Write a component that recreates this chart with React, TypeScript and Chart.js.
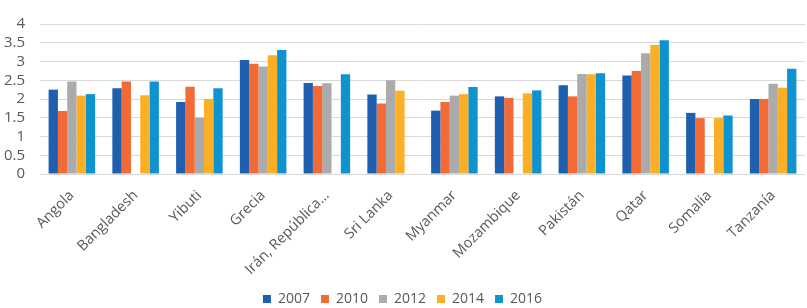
import React, { useEffect, useRef } from "react";
import { Chart, registerables } from "chart.js";

Chart.register(...registerables);

const categories = [
  "Angola",
  "Bangladesh",
  "Yibuti",
  "Grecia",
  "Irán, República…",
  "Sri Lanka",
  "Myanmar",
  "Mozambique",
  "Pakistán",
  "Qatar",
  "Somalia",
  "Tanzanía",
];

const seriesNames = ["2007", "2010", "2012", "2014", "2016"];

const v2007 = [2.25, 2.29, 1.92, 3.04, 2.43, 2.12, 1.69, 2.07, 2.37, 2.63, 1.63, 2.0];
const v2010 = [1.68, 2.47, 2.33, 2.94, 2.35, 1.88, 1.92, 2.03, 2.07, 2.75, 1.49, 2.0];
const v2012 = [2.47, null, 1.5, 2.87, 2.42, 2.5, 2.09, null, 2.67, 3.22, null, 2.41];
const v2014 = [2.09, 2.1, 2.0, 3.17, null, 2.22, 2.13, 2.15, 2.66, 3.44, 1.49, 2.3];
const v2016 = [2.13, 2.47, 2.29, 3.31, 2.66, null, 2.32, 2.23, 2.69, 3.57, 1.56, 2.81];

const seriesValues = [v2007, v2010, v2012, v2014, v2016];
const seriesColors = ["#1F5FAF", "#F26A35", "#ABABAB", "#FCAF25", "#0F93CF"];

const FONT = "'Open Sans', sans-serif";

export default function App() {
  const ref = useRef<HTMLCanvasElement | null>(null);

  useEffect(() => {
    document.body.style.margin = "0";
    const canvas = ref.current;
    if (!canvas) return;
    const chart = new Chart(canvas, {
      type: "bar",
      data: {
        labels: categories,
        datasets: seriesNames.map((name, i) => ({
          label: name,
          data: seriesValues[i],
          backgroundColor: seriesColors[i],
          borderWidth: 0,
          categoryPercentage: 0.73,
          barPercentage: 1,
        })),
      },
      options: {
        responsive: false,
        animation: false,
        devicePixelRatio: 1,
        layout: { padding: { top: 8, left: 0, right: 2, bottom: -8 } },
        plugins: {
          legend: {
            position: "bottom",
            labels: {
              boxWidth: 8,
              boxHeight: 8,
              padding: 11,
              color: "#595959",
              font: { family: FONT, size: 14 },
            },
          },
          tooltip: { enabled: false },
        },
        scales: {
          x: {
            grid: { display: false },
            border: { display: false },
            ticks: {
              minRotation: 45,
              maxRotation: 45,
              autoSkip: false,
              padding: 5,
              color: "#595959",
              font: { family: FONT, size: 14.5 },
            },
            afterFit: (scale: any) => {
              scale.height = 107;
            },
          },
          y: {
            min: 0,
            max: 4,
            ticks: {
              stepSize: 0.5,
              autoSkip: false,
              maxTicksLimit: 20,
              padding: 15,
              color: "#595959",
              font: { family: FONT, size: 15 },
              callback: (v: any) => String(Number(v)),
            },
            grid: { color: "#D9D9D9", drawTicks: false, lineWidth: 1 },
            border: { display: false },
            afterFit: (scale: any) => {
              scale.width = 40;
            },
          },
        },
      },
    });
    return () => chart.destroy();
  }, []);

  return (
    <div style={{ width: 807, height: 308 }}>
      <canvas ref={ref} width={807} height={308} style={{ display: "block" }} />
    </div>
  );
}
